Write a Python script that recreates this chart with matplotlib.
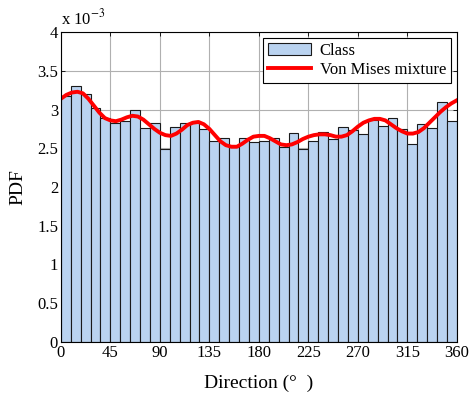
import numpy as np
import matplotlib
matplotlib.use('Agg')
import matplotlib.pyplot as plt

plt.rcParams['font.family'] = ['Liberation Serif', 'DejaVu Serif']
plt.rcParams['mathtext.fontset'] = 'stix'

# histogram of directions, 40 bins of 9 degrees (values in units of 1e-3)
bin_edges = np.arange(0, 361, 9)
class_pdf = [3.17, 3.31, 3.20, 3.02, 2.89, 2.83, 2.85, 3.00, 2.76, 2.83,
             2.49, 2.77, 2.83, 2.84, 2.75, 2.60, 2.63, 2.52, 2.63, 2.58,
             2.59, 2.63, 2.52, 2.70, 2.49, 2.60, 2.71, 2.62, 2.77, 2.74,
             2.69, 2.87, 2.79, 2.89, 2.75, 2.56, 2.81, 2.76, 3.10, 2.85]

# fitted von Mises mixture, read every 5 degrees
curve_deg = np.arange(0, 361, 5)
curve_pdf = [3.14, 3.19, 3.22, 3.23, 3.21, 3.14, 3.05, 2.96, 2.89, 2.86,
             2.85, 2.87, 2.90, 2.92, 2.91, 2.87, 2.81, 2.75, 2.70, 2.67,
             2.66, 2.69, 2.74, 2.80, 2.83, 2.84, 2.81, 2.75, 2.67, 2.59,
             2.54, 2.52, 2.52, 2.56, 2.61, 2.65, 2.66, 2.66, 2.63, 2.59,
             2.55, 2.54, 2.55, 2.58, 2.62, 2.65, 2.67, 2.68, 2.68, 2.67,
             2.65, 2.65, 2.67, 2.72, 2.78, 2.83, 2.86, 2.88, 2.88, 2.86,
             2.81, 2.76, 2.72, 2.69, 2.69, 2.71, 2.76, 2.83, 2.90, 2.97,
             3.03, 3.08, 3.12]

xticks = np.arange(0, 361, 45)
yticks = np.arange(0, 4.01, 0.5)

fig = plt.figure(figsize=(4.72, 3.97), dpi=100)
ax = fig.add_axes([0.129, 0.139, 0.839, 0.780])

bars = ax.bar(bin_edges[:-1], class_pdf, width=9, align='edge', color='#bad3f0',
              edgecolor='#1a1a1a', linewidth=0.8, label='Class', zorder=2)
line, = ax.plot(curve_deg, curve_pdf, color='#ff0000', linewidth=2.8,
                label='Von Mises mixture', zorder=3)

ax.set_xlim(0, 360)
ax.set_ylim(0, 4)
ax.set_xticks(xticks)
ax.set_xticklabels([str(t) for t in xticks])
ax.set_yticks(yticks)
ax.set_yticklabels(['%g' % t for t in yticks])
ax.tick_params(direction='in', top=True, right=True, labelsize=12,
               length=3, width=0.6, pad=2)
ax.grid(True, color='#b0b0b0', linewidth=0.8, zorder=0)
ax.set_axisbelow(True)
for s in ax.spines.values():
    s.set_linewidth(0.8)
    s.set_zorder(4)

ax.set_xlabel('Direction (°  )', fontsize=14, labelpad=10)
ax.set_ylabel('PDF', fontsize=14, labelpad=8)
ax.text(0.0, 1.012, r'x 10$^{-3}$', transform=ax.transAxes, fontsize=12,
        ha='left', va='bottom')

leg = ax.legend([bars, line], ['Class', 'Von Mises mixture'],
                loc='upper right', fontsize=12, frameon=True, fancybox=False,
                edgecolor='black', framealpha=1, borderaxespad=0.35,
                handlelength=2.6, borderpad=0.3, labelspacing=0.2,
                handletextpad=0.5)
leg.get_frame().set_linewidth(0.8)

fig.savefig('out.png', dpi=100)
